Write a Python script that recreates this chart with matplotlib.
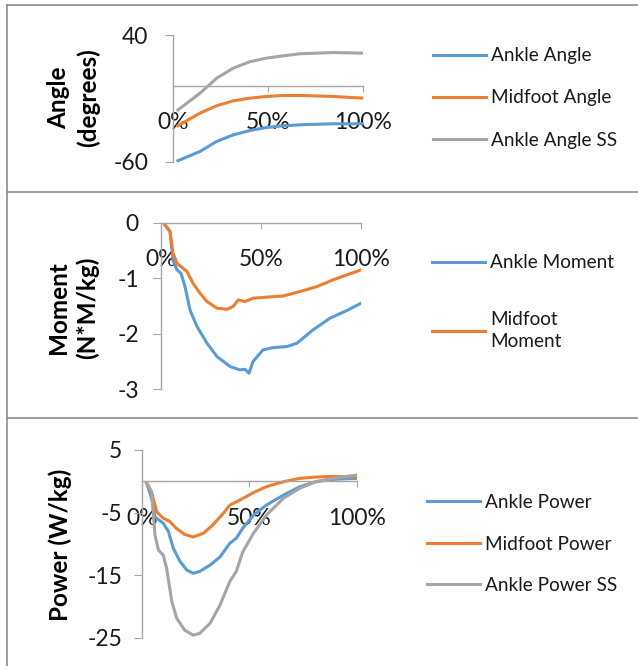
import matplotlib.pyplot as plt
from matplotlib.lines import Line2D

# gait cycle (%) and values
angle_x = [2.6, 14.2, 23, 31.8, 40.5, 49.3, 58, 66.8, 84.4, 100]
ankle_angle = [-59, -51.7, -43.8, -38.6, -35.2, -32.8, -31.5, -30.7, -29.9, -29.9]
midfoot_angle = [-31.5, -21.5, -15.7, -11.8, -9.7, -8.4, -7.6, -7.6, -8.4, -9.7]
ankle_angle_ss = [-19, -5.8, 6, 14, 19, 21.8, 23.6, 25.2, 26.2, 25.7]

mom_mid_x = [2, 4.5, 6, 8, 13, 16, 19.5, 23, 28, 33, 36, 38.7, 42, 46, 53, 61, 69.5, 78, 86, 94.5, 100]
midfoot_moment = [-0.04, -0.16, -0.55, -0.73, -0.88, -1.09, -1.27, -1.42, -1.54, -1.56, -1.51,
                  -1.39, -1.42, -1.36, -1.34, -1.32, -1.24, -1.15, -1.03, -0.92, -0.85]
mom_ank_x = [2, 4.5, 6, 8, 10, 12, 14.5, 18, 23, 28, 34.5, 39.5, 42, 44, 46, 51, 56, 63, 68, 76, 84.5, 93, 100]
ankle_moment = [-0.04, -0.16, -0.67, -0.85, -0.91, -1.15, -1.57, -1.87, -2.17, -2.41, -2.59, -2.65,
                -2.64, -2.71, -2.50, -2.29, -2.25, -2.23, -2.17, -1.93, -1.72, -1.58, -1.45]

pow_x = [2.3, 4.6, 7, 10, 13, 16, 20, 24, 28.7, 33, 38, 41, 45.7, 52, 58, 66, 73.6, 81, 89, 100]
midfoot_power = [-0.3, -1.7, -4.9, -5.9, -6.4, -7.5, -8.5, -8.9, -8.3, -7.0, -5.1, -3.8, -3.0,
                 -1.8, -0.86, -0.06, 0.47, 0.68, 0.79, 0.68]
pow_ank_x = [2.3, 4.6, 6.2, 10, 12.4, 14.7, 17.8, 21, 24, 27, 31.8, 36.4, 41, 44, 47, 52, 58, 66, 73.6, 81, 89, 100]
ankle_power = [-0.3, -2.7, -5.7, -6.7, -8.0, -10.7, -12.8, -14.2, -14.7, -14.4, -13.4, -12.1, -9.9,
               -9.1, -7.5, -5.4, -3.8, -2.2, -0.86, -0.06, 0.31, 0.47]
pow_ss_x = [2.3, 4.6, 6.2, 7.8, 10, 11.6, 14, 16.3, 20, 24, 27, 31.8, 36.4, 41, 44, 47, 52, 58, 66, 73.6, 81, 89, 100]
ankle_power_ss = [-0.3, -1.7, -8.6, -11.0, -11.8, -13.9, -19.2, -21.9, -23.8, -24.6, -24.3, -22.7,
                  -19.8, -16.0, -14.4, -11.3, -8.3, -5.4, -2.7, -1.1, -0.06, 0.47, 1.0]

x_ticks = [0, 50, 100]
x_labels = ['0%', '50%', '100%']

blue, orange, gray = '#5B9BD5', '#ED7D31', '#A5A5A5'
axis_col = '#a6a6a6'
text_col = '#1a1a1a'
plt.rcParams['font.family'] = ['Lato', 'DejaVu Sans']

W, H = 638, 666
fig = plt.figure(figsize=(W / 100, H / 100), dpi=100)

def px_axes(x0, x1, y_top, y_bot):
    return fig.add_axes([x0 / W, 1 - y_bot / H, (x1 - x0) / W, (y_bot - y_top) / H])

def style(ax, ylim, yticks, ypad):
    ax.set_xlim(0, 100)
    ax.set_ylim(*ylim)
    ax.set_yticks(yticks)
    ax.set_yticklabels([str(v) for v in yticks])
    ax.set_xticks(x_ticks)
    ax.set_xticklabels(x_labels)
    ax.spines['top'].set_visible(False)
    ax.spines['right'].set_visible(False)
    ax.spines['bottom'].set_position(('data', 0))
    for s in ('left', 'bottom'):
        ax.spines[s].set_color(axis_col)
        ax.spines[s].set_linewidth(1)
    ax.tick_params(axis='x', direction='out', length=4, pad=15, colors=axis_col,
                   labelcolor=text_col, labelsize=16.5)
    ax.tick_params(axis='y', direction='out', length=6, pad=ypad, colors=axis_col,
                   labelcolor=text_col, labelsize=16.5)
    ax.patch.set_alpha(0)

lw = 2.2

# panel 1: angles
ax1 = px_axes(173, 363, 35, 162)
ax1.plot(angle_x, ankle_angle, color=blue, lw=lw)
ax1.plot(angle_x, midfoot_angle, color=orange, lw=lw)
ax1.plot(angle_x, ankle_angle_ss, color=gray, lw=lw)
style(ax1, (-60, 40), [40, -60], 12)

# panel 2: moments
ax2 = px_axes(161, 361, 222.7, 389.3)
ax2.plot(mom_ank_x, ankle_moment, color=blue, lw=lw)
ax2.plot(mom_mid_x, midfoot_moment, color=orange, lw=lw)
style(ax2, (-3, 0), [0, -1, -2, -3], 10)

# panel 3: power
ax3 = px_axes(141.7, 356.7, 450, 637.7)
ax3.plot(pow_ank_x, ankle_power, color=blue, lw=lw)
ax3.plot(pow_x, midfoot_power, color=orange, lw=lw)
ax3.plot(pow_ss_x, ankle_power_ss, color=gray, lw=lw)
style(ax3, (-25, 5), [5, -5, -15, -25], 8)

# y labels
lab_kw = dict(rotation=90, ha='center', va='center', fontsize=17.5, fontweight='bold',
              color='black', linespacing=1.3, multialignment='center')
fig.text(73.5 / W, 1 - 98 / H, 'Angle\n(degrees)', **lab_kw)
fig.text(73 / W, 1 - 308 / H, 'Moment\n(N*M/kg)', **lab_kw)
fig.text(60 / W, 1 - 545 / H, 'Power (W/kg)', **lab_kw)

# legends
leg_kw = dict(loc='center left', frameon=False, fontsize=13.7, handlelength=2.8,
              handletextpad=0.26, borderpad=0, borderaxespad=0,
              bbox_transform=fig.transFigure, labelcolor=text_col)

def handles(cols):
    return [Line2D([], [], color=c, lw=lw) for c in cols]

fig.legend(handles([blue, orange, gray]), ['Ankle Angle', 'Midfoot Angle', 'Ankle Angle SS'],
           bbox_to_anchor=(433 / W, 1 - 98 / H), labelspacing=1.32, **leg_kw)
leg2 = fig.legend(handles([blue, orange]), ['Ankle Moment', 'Midfoot\nMoment'],
                  bbox_to_anchor=(432 / W, 1 - 302 / H), labelspacing=2.1, **leg_kw)
leg2.get_texts()[1].set_linespacing(1.3)
fig.legend(handles([blue, orange, gray]), ['Ankle Power', 'Midfoot Power', 'Ankle Power SS'],
           bbox_to_anchor=(427 / W, 1 - 544 / H), labelspacing=1.28, **leg_kw)

# panel frames
frame_col = '#8c8c8c'
for y in (5, 192, 418):
    fig.add_artist(Line2D([7 / W, 1], [1 - y / H, 1 - y / H], color=frame_col, lw=1.2))
fig.add_artist(Line2D([7 / W, 7 / W], [1 - 5 / H, 0], color=frame_col, lw=1.2))

fig.savefig('out.png', dpi=100)
